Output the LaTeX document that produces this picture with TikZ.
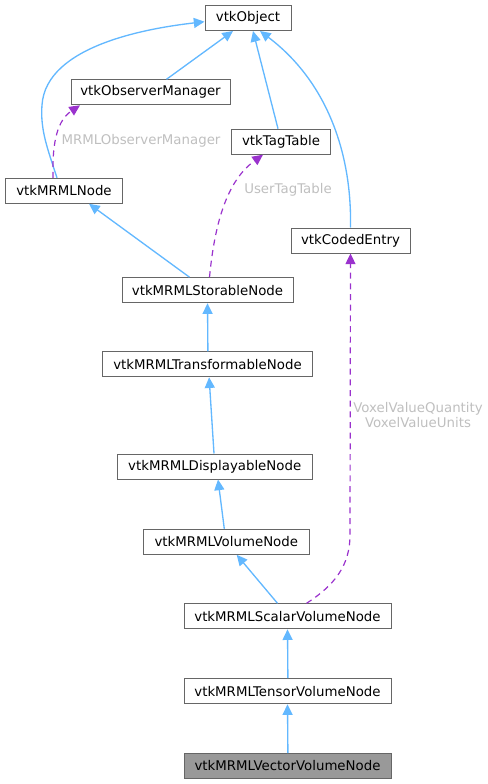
\documentclass[tikz,border=0pt]{standalone}
\usepackage{fontspec}
\setmainfont{DejaVu Sans}
\usetikzlibrary{arrows.meta,calc}
\definecolor{inhblue}{HTML}{63B8FF}
\definecolor{usepurple}{HTML}{9A32CD}
\definecolor{boxgray}{HTML}{666666}
\definecolor{selgray}{HTML}{999999}
\definecolor{lblgray}{HTML}{BFBFBF}
\tikzset{
    cls/.style={draw=boxgray, line width=0.75pt, fill=white, minimum height=18.75pt,
        inner sep=0pt, font=\fontsize{10}{12}\selectfont},
    inh/.style={draw=inhblue, line width=1pt, -{Triangle[length=8pt,width=7.5pt]}},
    uses/.style={draw=usepurple, line width=0.9pt, dash pattern=on 4.5pt off 3.5pt,
        -{Triangle[length=8pt,width=7.5pt]}},
    lbl/.style={text=lblgray, font=\fontsize{10}{11}\selectfont, align=center},
}
\begin{document}
\begin{tikzpicture}[x=0.75pt, y=-0.75pt]
    \useasboundingbox (0,0) rectangle (488,784);

    % Class boxes
    \foreach \n/\x/\y/\w/\t in {
        obj/248/18/86/{vtkObject},
        obsmgr/150.5/92.3/159/{vtkObserverManager},
        tag/281/141.7/98.6/{vtkTagTable},
        mrml/64/190.8/117.7/{vtkMRMLNode},
        coded/350.5/240.5/119/{vtkCodedEntry},
        stor/207.5/290.2/171/{vtkMRMLStorableNode},
        trans/207.5/364.3/210/{vtkMRMLTransformableNode},
        disp/214.7/466.5/194.7/{vtkMRMLDisplayableNode},
        vol/226.3/541.8/166/{vtkMRMLVolumeNode},
        scal/287.5/616.3/207/{vtkMRMLScalarVolumeNode},
        tens/287.5/691.2/207/{vtkMRMLTensorVolumeNode}
    } {
        \node[cls, minimum width=\w*0.75pt] (\n) at (\x,\y) {\t};
    }
    \node[cls, fill=selgray, minimum width=155.25pt] (vect) at (287.5,766) {vtkMRMLVectorVolumeNode};

    % Inheritance
    \foreach \a/\b in {trans/stor, tens/scal, vect/tens}
        \draw[inh] ($(\a.north)+(0.4,0)$) -- (\b.south);
    \draw[inh] ($(obsmgr.north)+(16,0)$) -- ($(obj.south)+(-15,0)$);
    \draw[inh] ($(tag.north)+(-3,0)$) -- ($(obj.south)+(5,0)$);
    \draw[inh] (coded.north) .. controls (352,150) and (325,80) .. ($(obj.south)+(12,0)$);
    \draw[inh] ($(mrml.north)+(-7,0)$) .. controls (48,150) and (40,130) .. (42,105)
        .. controls (46,45) and (150,28) .. ($(obj.west)+(0,3.7)$);
    \draw[inh] ($(stor.north)+(-18,0)$) -- ($(mrml.south)+(25,0)$);
    \draw[inh] ($(disp.north)+(-0.7,0)$) -- ($(trans.south)+(1.6,0)$);
    \draw[inh] ($(vol.north)+(-2,0)$) -- ($(disp.south)+(3.3,0)$);
    \draw[inh] ($(scal.north)+(-10,0)$) -- ($(vol.south)+(10.4,0)$);

    % Usage
    \draw[uses] ($(mrml.north)+(-11,0)$) .. controls (52,140) and (58,120) .. ($(obsmgr.south)+(-70.5,0)$);
    \draw[uses] ($(stor.north)+(2,0)$) .. controls (215,220) and (228,180) .. ($(tag.south)+(-18,0)$);
    \draw[uses] ($(scal.north)+(19,0)$) .. controls (335,585) and (350,565) .. (350,535) -- (coded.south);

    \node[lbl] (lobs) at (141,141) {MRMLObserverManager};
    \node[lbl] (ltag) at (288,190) {UserTagTable};
    \node[lbl] (lvox) at (418,415) {VoxelValueQuantity\\VoxelValueUnits};
\end{tikzpicture}
\end{document}
